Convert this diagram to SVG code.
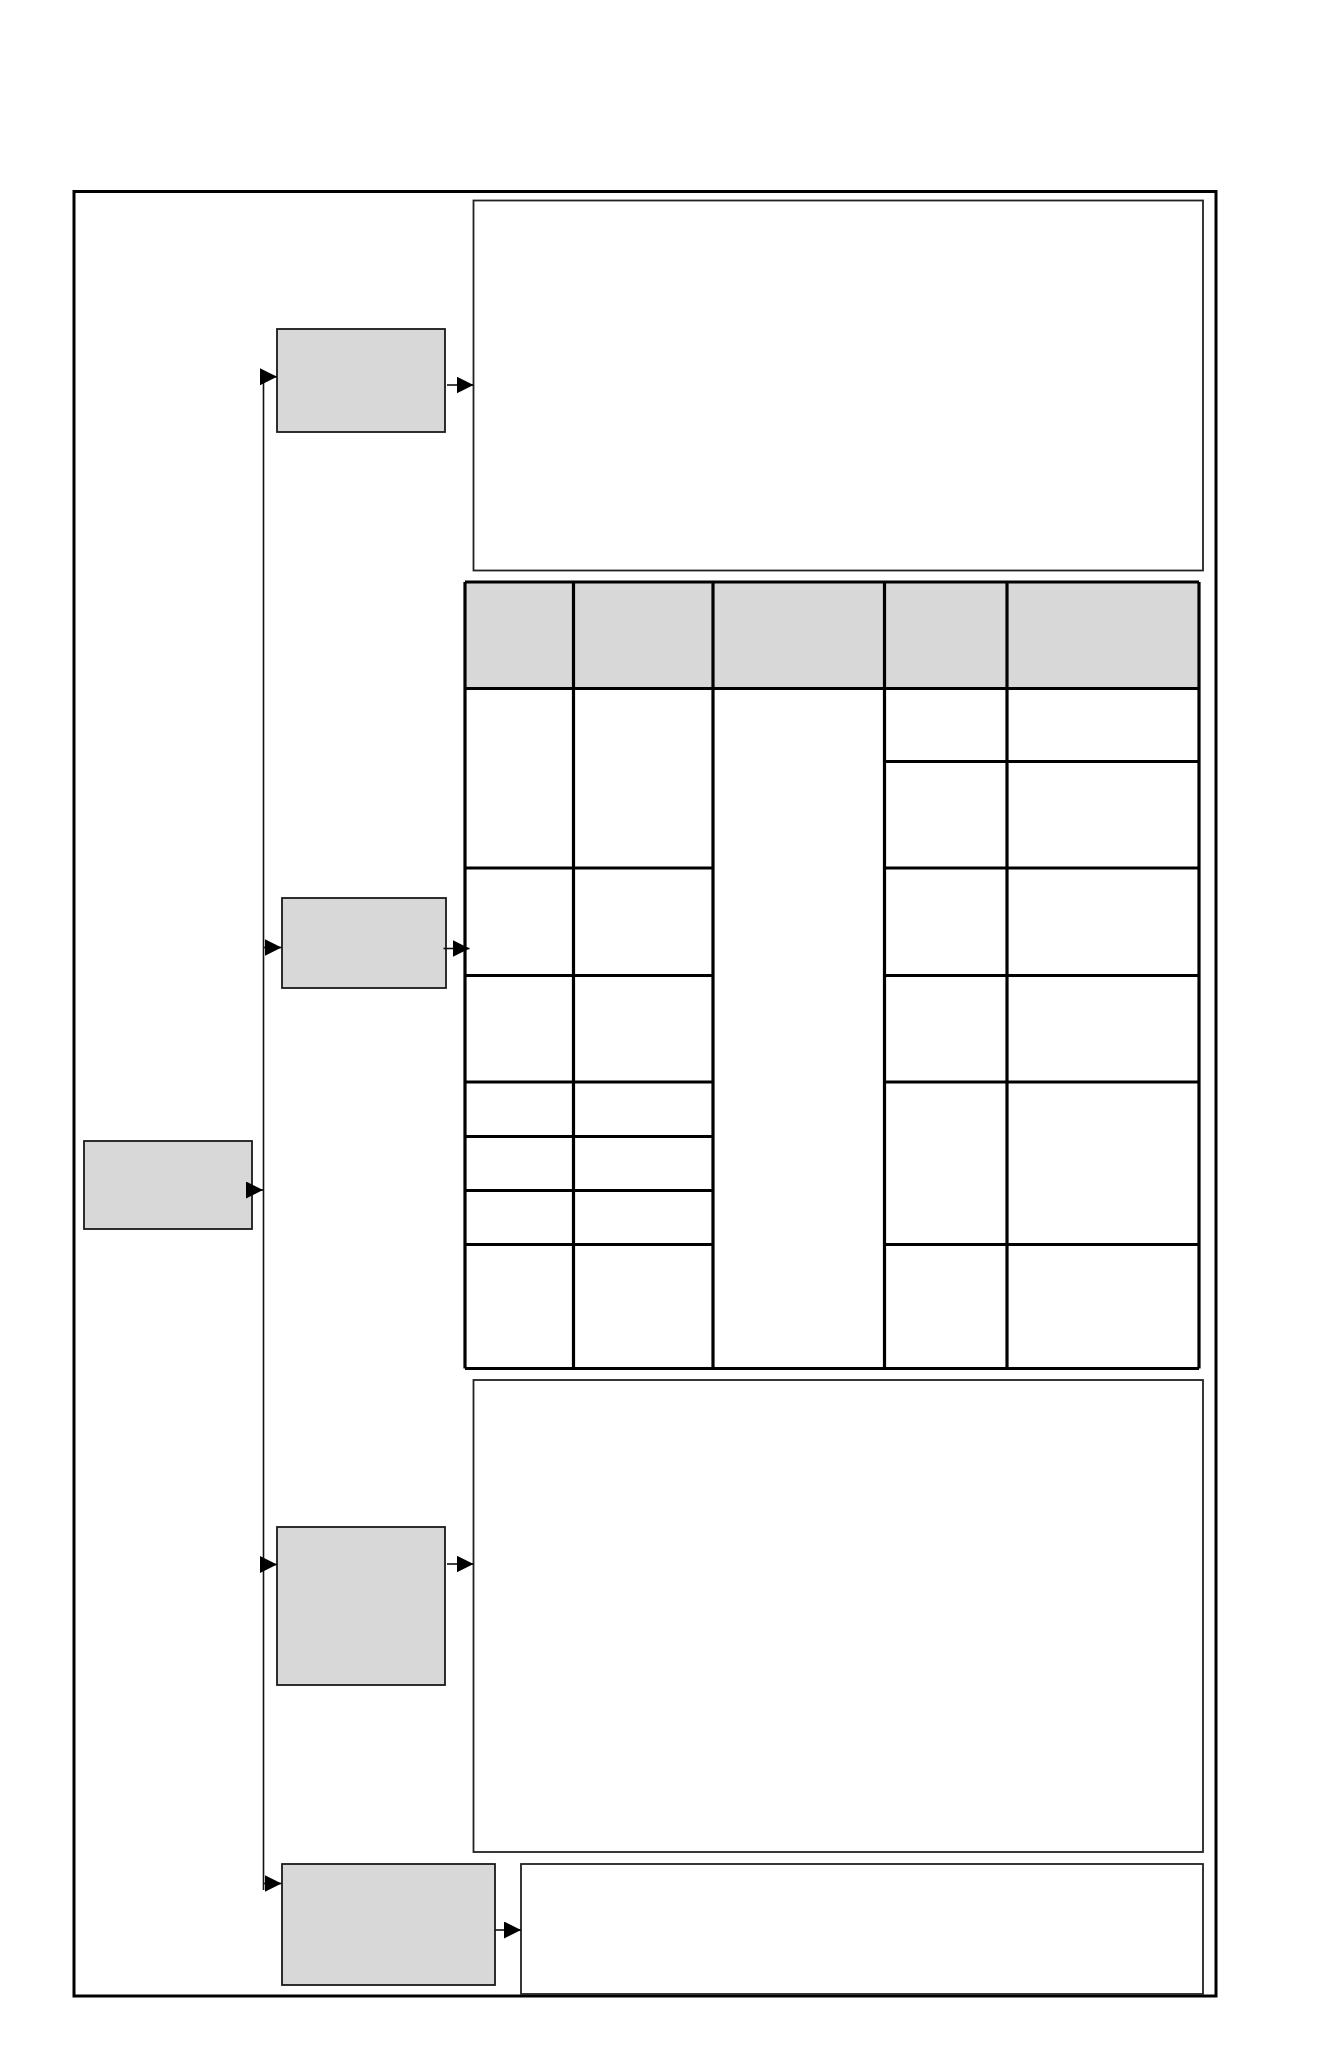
<svg xmlns="http://www.w3.org/2000/svg" width="1338" height="2046" viewBox="0 0 1338 2046">
<style>
.frame{fill:none;stroke:#000;stroke-width:3}
.node{fill:#d8d8d8;stroke:#1a1a1a;stroke-width:1.8}
.box{fill:#fff;stroke:#222;stroke-width:1.8}
.conn{fill:none;stroke:#111;stroke-width:1.6}
.tl{stroke:#000;stroke-width:3.2;fill:none}
.thd{fill:#d8d8d8;stroke:none}
</style>
<defs>
<marker id="ah" markerUnits="userSpaceOnUse" markerWidth="18" markerHeight="18" refX="17" refY="8.5" orient="auto" viewBox="0 0 18 18">
<path d="M0,0 L17,8.5 L0,17 z" fill="#000"/>
</marker>
</defs>
<rect width="1338" height="2046" fill="#fff"/>
<rect class="frame" x="74" y="191.5" width="1142" height="1804.5"/>

<g id="nodes">
<g id="node-root"><rect class="node" x="84" y="1141" width="168" height="88"/></g>
<g id="node-1"><rect class="node" x="277" y="329" width="168" height="103"/></g>
<g id="node-2"><rect class="node" x="282" y="898" width="164" height="90"/></g>
<g id="node-3"><rect class="node" x="277" y="1527" width="168" height="158"/></g>
<g id="node-4"><rect class="node" x="282" y="1864" width="213" height="121"/></g>
<g id="box-1"><rect class="box" x="473.5" y="200.5" width="729.5" height="370"/></g>
<g id="box-2"><rect class="box" x="473.5" y="1380" width="729.5" height="472"/></g>
<g id="box-3"><rect class="box" x="521" y="1864" width="682" height="130"/></g>
<g id="table">
<rect class="thd" x="465" y="582" width="734" height="106.5"/>
<path class="tl" d="M465,582 H1199 M465,688.5 H1199 M465,1368.5 H1199
M465,582 V1368.5 M573.5,582 V1368.5 M713,582 V1368.5 M884.5,582 V1368.5 M1007,582 V1368.5 M1199,582 V1368.5
M465,868 H713 M465,975.5 H713 M465,1082 H713 M465,1136.5 H713 M465,1190.5 H713 M465,1244.5 H713
M884.5,761.5 H1199 M884.5,868 H1199 M884.5,975.5 H1199 M884.5,1082 H1199 M884.5,1244.5 H1199"/>
</g>
</g>

<g id="connectors">
<line class="conn" x1="263.5" y1="376.5" x2="263.5" y2="1890"/>
<line class="conn" x1="252" y1="1190" x2="263" y2="1190" marker-end="url(#ah)"/>
<line class="conn" x1="260" y1="376.7" x2="277" y2="376.7" marker-end="url(#ah)"/>
<line class="conn" x1="263.5" y1="947.5" x2="281.5" y2="947.5" marker-end="url(#ah)"/>
<line class="conn" x1="260" y1="1564.5" x2="277" y2="1564.5" marker-end="url(#ah)"/>
<line class="conn" x1="263.5" y1="1883.5" x2="281.5" y2="1883.5" marker-end="url(#ah)"/>
<line class="conn" x1="447" y1="385" x2="473.5" y2="385" marker-end="url(#ah)"/>
<line class="conn" x1="443.5" y1="948.5" x2="469.5" y2="948.5" marker-end="url(#ah)"/>
<line class="conn" x1="447" y1="1564" x2="473.5" y2="1564" marker-end="url(#ah)"/>
<line class="conn" x1="495" y1="1930" x2="521" y2="1930" marker-end="url(#ah)"/>
</g>
</svg>
